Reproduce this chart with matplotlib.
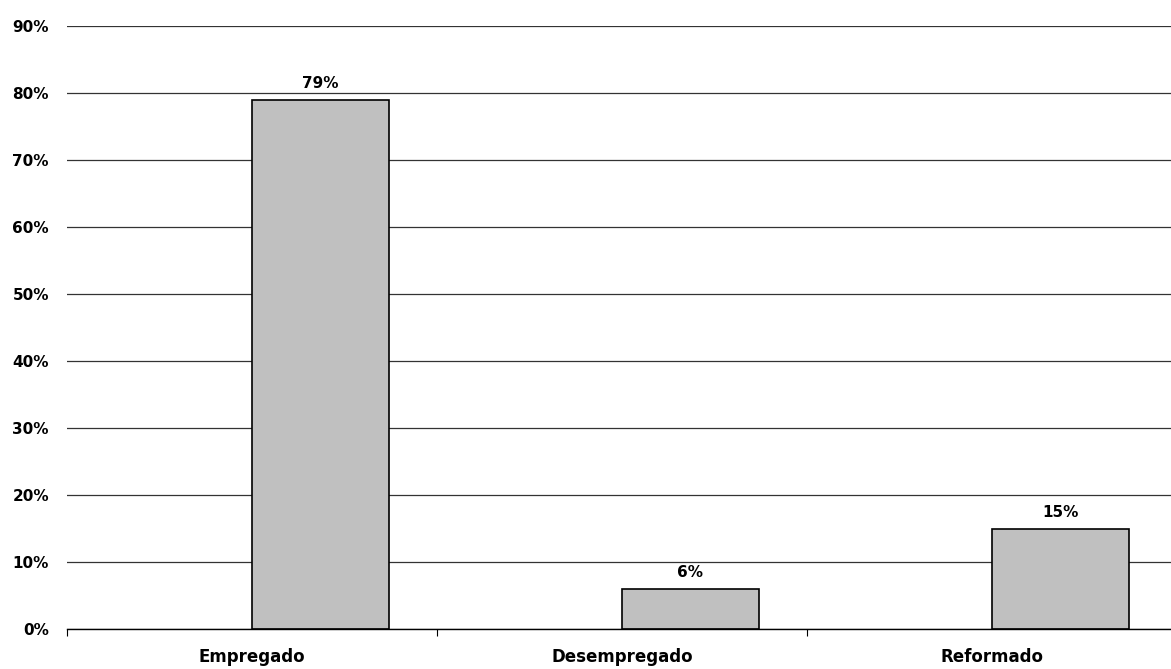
import matplotlib
matplotlib.use("Agg")
import matplotlib.pyplot as plt
import numpy as np

categories = ["Empregado", "Desempregado", "Reformado"]
values = [79, 6, 15]
labels = ["79%", "6%", "15%"]
yticks = [0, 10, 20, 30, 40, 50, 60, 70, 80, 90]

fig = plt.figure(figsize=(11.71, 6.69), dpi=100)
# axes runs slightly past the right edge, like the reference
ax = fig.add_axes([67 / 1171, 40 / 669, 1110 / 1171, 603 / 669])

x = np.arange(len(categories))
bw = 0.37
bars = ax.bar(x, values, width=bw, align="edge", color="#c0c0c0",
              edgecolor="black", linewidth=1.2, zorder=3)
for b, lab in zip(bars, labels):
    ax.text(b.get_x() + b.get_width() / 2, b.get_height() + 1.3, lab,
            ha="center", va="bottom", fontsize=11, fontweight="bold")

ax.set_xlim(-0.5, 2.5)
ax.set_ylim(0, 90)
ax.set_yticks(yticks)
ax.set_yticklabels([f"{t}%" for t in yticks], fontsize=11, fontweight="bold")
ax.yaxis.grid(True, color="#333333", linewidth=0.9, zorder=0)
ax.tick_params(axis="y", length=0, pad=13)

# category boundaries as ticks, labels centred on category
ax.set_xticks([-0.5, 0.5, 1.5])
ax.set_xticklabels([])
ax.set_xticks(x, minor=True)
ax.set_xticklabels(categories, minor=True, fontsize=12, fontweight="bold")
ax.tick_params(axis="x", which="major", length=5, width=0.8, direction="out")
ax.tick_params(axis="x", which="minor", length=0, pad=14)

for s in ["top", "right", "left"]:
    ax.spines[s].set_visible(False)
ax.spines["bottom"].set_linewidth(1.0)
ax.spines["bottom"].set_zorder(4)

fig.savefig("out.png", dpi=100)
